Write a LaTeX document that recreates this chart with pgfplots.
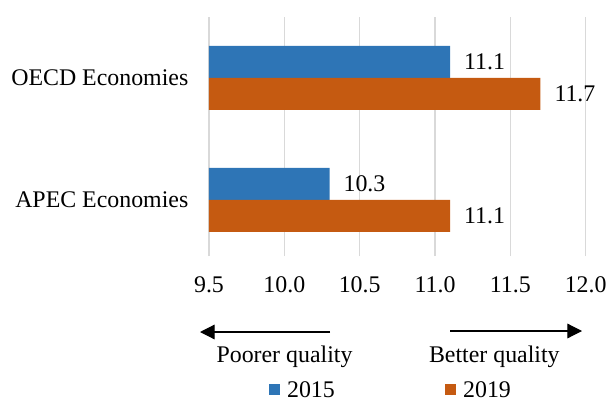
\documentclass[border=0pt]{standalone}
\usepackage{pgfplots}
\pgfplotsset{compat=1.18}
\usepackage{fontspec}
\setmainfont{Liberation Serif}
\usetikzlibrary{arrows.meta}
\definecolor{c2015}{HTML}{2E75B6}
\definecolor{c2019}{HTML}{C55A11}
\definecolor{gridgray}{HTML}{D9D9D9}
\newcommand\cf{\fontsize{17.9pt}{21.5pt}\selectfont}
\begin{document}
\begin{tikzpicture}
\useasboundingbox (0,0) rectangle (457.5pt,-302.25pt);
\begin{axis}[
  at={(156.75pt,-192pt)}, anchor=south west,
  scale only axis, width=282.5pt, height=179.25pt,
  xbar, bar width=24pt,
  xmin=9.5, xmax=12, ymin=-0.46, ymax=1.5,
  xtick={9.5,10,10.5,11,11.5,12},
  ytick={0,1}, yticklabels={APEC Economies,OECD Economies},
  /pgf/number format/assume math mode=true,
  xticklabel={\pgfmathprintnumber[fixed,fixed zerofill,precision=1]{\tick}},
  tick label style={font=\cf},
  xticklabel style={yshift=-12pt},
  yticklabel style={xshift=-12pt},
  axis line style={draw=none}, major tick length=0pt,
  xmajorgrids, grid style={draw=gridgray, line width=1pt},
  nodes near coords={\pgfmathprintnumber[fixed,fixed zerofill,precision=1]{\pgfplotspointmeta}},
  nodes near coords style={font=\cf, text=black, xshift=7pt},
  legend style={draw=none, legend columns=2, font=\cf, at={(0.4845,-0.565)}, anchor=center,
    /tikz/every odd column/.append style={column sep=3pt},
    /tikz/every even column/.append style={column sep=81pt}},
  legend image code/.code={\fill[#1] (0pt,-3pt) rectangle (8.25pt,5.25pt);},
]
\addplot[fill=c2015, draw=none, bar shift=12pt] coordinates {(11.1,1) (10.3,0)};
\addplot[fill=c2019, draw=none, bar shift=-12pt] coordinates {(11.7,1) (11.1,0)};
\legend{2015,2019}
\end{axis}
\begin{scope}[x=0.75pt,y=-0.75pt]
\draw[line width=0.9pt, -{Triangle[length=11pt,width=11pt]}] (330,332) -- (200,332);
\draw[line width=0.9pt, -{Triangle[length=11pt,width=11pt]}] (450,331) -- (582,331);
\node[font=\cf, anchor=base] at (284.5,362) {Poorer quality};
\node[font=\cf, anchor=base] at (494.3,362) {Better quality};
\end{scope}
\end{tikzpicture}
\end{document}
